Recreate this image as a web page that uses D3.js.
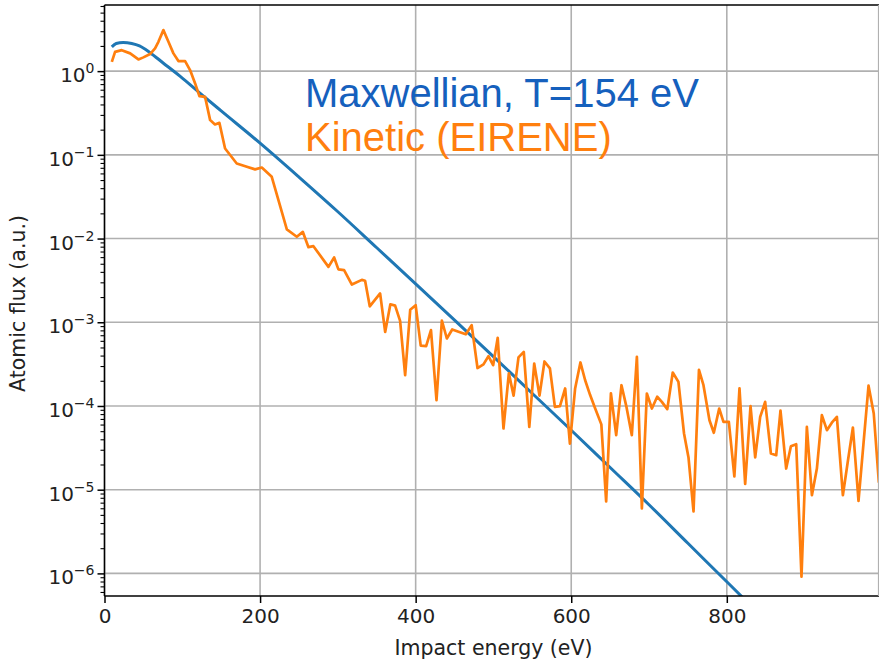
<!DOCTYPE html>
<html>
<head>
<meta charset="utf-8">
<script src="https://cdn.jsdelivr.net/npm/d3@7"></script>
<style>
  html, body { margin: 0; padding: 0; background: #fff; }
  svg { display: block; }
</style>
</head>
<body>
<svg id="chart" width="879" height="660"></svg>
<script>
// ---------------- data ----------------
const maxwellEnergy = [9.4, 15, 24, 35, 45, 58.6, 75, 97, 123, 150, 200, 250, 300, 350, 400, 450, 500, 550, 600, 650, 700, 750, 800, 850];
const maxwellFlux = [1.95, 2.14, 2.20, 2.14, 2.00, 1.66, 1.26, 0.871, 0.543, 0.335, 0.138, 0.0543, 0.0209, 0.00776, 0.00288, 0.00106, 3.89e-4, 1.41e-4, 5.13e-5, 1.84e-5, 6.61e-6, 2.29e-6, 7.94e-7, 2.75e-7];

const kineticEnergy = [
  9.4, 13.6, 22.2, 33, 43.6, 50, 58.6, 65, 69.3, 75.7,
  82.2, 88.6, 95, 103.6, 110, 116.5, 122, 129.3, 135.8, 142,
  147.7, 155, 170, 183, 193.6, 202.2, 215, 223.6, 234.4, 247.2,
  255, 262.2, 268.6, 287.9, 295.2, 300.7, 308, 318, 330.8, 335,
  341, 354.3, 360.8, 367.5, 373.6, 380, 386.5, 393, 400, 406.5,
  413.5, 419.7, 426.8, 433.7, 440.1, 447, 456, 464.5, 472, 479.5,
  487.2, 493.6, 499.6, 505.5, 512.9, 519.8, 525.9, 532.2, 539, 546.1,
  552.4, 559.2, 565.6, 572.6, 579, 585.5, 592.2, 598.3, 605, 611.8,
  617.9, 624.3, 630.8, 638.7, 644.9, 651, 657.8, 664.6, 671, 677.9,
  684.4, 690.8, 697.2, 703.7, 710.5, 716.5, 723.5, 730.5, 737.8, 745,
  750.8, 757.2, 764.2, 770, 777.7, 783.3, 790.2, 795.7, 802.6, 809.7,
  816.3, 823.6, 830.5, 836.5, 842.9, 849.3, 856.7, 863.5, 869, 876.3,
  882.4, 889.2, 896, 902.9, 909.4, 915.8, 922.2, 928.7, 935, 941.5,
  949.2, 955.6, 962.1, 969.3, 975.7, 982.2, 988.9, 995.5
];
const kineticFlux = [
  1.29, 1.70, 1.78, 1.63, 1.38, 1.46, 1.60, 1.87, 2.24, 3.09,
  2.24, 1.63, 1.32, 1.32, 1.03, 0.713, 0.502, 0.493, 0.260, 0.231,
  0.241, 0.119, 0.0789, 0.0719, 0.0670, 0.0706, 0.0546, 0.0288, 0.0129, 0.0105,
  0.0120, 7.89e-3, 8.11e-3, 4.59e-3, 5.94e-3, 4.28e-3, 4.19e-3, 2.82e-3, 3.21e-3, 3.13e-3,
  1.55e-3, 2.21e-3, 7.67e-4, 1.64e-3, 1.58e-3, 1.04e-3, 2.33e-4, 1.41e-3, 1.60e-3, 5.25e-4,
  5.18e-4, 8.05e-4, 1.17e-4, 1.05e-3, 6.40e-4, 8.20e-4, 7.67e-4, 7.18e-4, 9.23e-4, 2.84e-4,
  3.14e-4, 3.94e-4, 3.07e-4, 6.53e-4, 5.38e-5, 2.45e-4, 1.33e-4, 3.80e-4, 4.43e-4, 5.62e-5,
  3.21e-4, 1.33e-4, 3.40e-4, 2.81e-4, 9.75e-5, 9.95e-5, 1.62e-4, 3.55e-5, 1.62e-4, 3.31e-4,
  2.03e-4, 1.35e-4, 9.33e-5, 6.03e-5, 7.24e-6, 1.42e-4, 4.48e-5, 1.77e-4, 9.75e-5, 4.48e-5,
  3.86e-4, 5.96e-6, 1.41e-4, 9.33e-5, 1.29e-4, 1.12e-4, 9.16e-5, 2.51e-4, 1.94e-4, 4.69e-5,
  2.40e-5, 5.50e-6, 2.70e-4, 1.77e-4, 6.76e-5, 4.78e-5, 9.33e-5, 6.46e-5, 6.46e-5, 1.44e-5,
  1.62e-4, 1.17e-5, 9.95e-5, 2.43e-5, 7.41e-5, 1.12e-4, 2.70e-5, 2.58e-5, 8.81e-5, 1.79e-5,
  3.31e-5, 3.50e-5, 9.12e-7, 5.62e-5, 8.59e-6, 1.79e-5, 7.76e-5, 5.14e-5, 6.31e-5, 7.41e-5,
  8.59e-6, 2.19e-5, 5.53e-5, 7.35e-6, 3.55e-5, 1.75e-4, 8.13e-5, 1.21e-5
];

const xTicks = [0, 200, 400, 600, 800];
const yTickExponents = [0, -1, -2, -3, -4, -5, -6];

const labelMaxwell = "Maxwellian, T=154 eV";
const labelKinetic = "Kinetic (EIRENE)";
const xTitle = "Impact energy (eV)";
const yTitle = "Atomic flux (a.u.)";

// ---------------- layout ----------------
const svg = d3.select("#chart");
const pLeft = 104.5, pRight = 878.5, pTop = 5, pBottom = 596;

const x = d3.scaleLinear().domain([0, 995]).range([pLeft, pRight]);
const y = d3.scaleLog().domain([Math.pow(10, -6.27), Math.pow(10, 0.79)]).range([pBottom, pTop]);

const FONT = "'DejaVu Sans', sans-serif";

// clip
svg.append("defs").append("clipPath").attr("id", "plotclip")
  .append("rect").attr("x", pLeft).attr("y", pTop).attr("width", pRight - pLeft).attr("height", pBottom - pTop);

// grid
const grid = svg.append("g");
grid.selectAll("line.vx").data(xTicks).join("line")
  .attr("x1", d => x(d)).attr("x2", d => x(d))
  .attr("y1", pTop).attr("y2", pBottom)
  .attr("stroke", "#b0b0b0").attr("stroke-width", 1.6);
grid.selectAll("line.hy").data(yTickExponents).join("line")
  .attr("x1", pLeft).attr("x2", pRight)
  .attr("y1", d => y(Math.pow(10, d))).attr("y2", d => y(Math.pow(10, d)))
  .attr("stroke", "#b0b0b0").attr("stroke-width", 1.6);

// lines
const plot = svg.append("g").attr("clip-path", "url(#plotclip)");
const maxwellData = maxwellEnergy.map((e, i) => [e, maxwellFlux[i]]);
const kineticData = kineticEnergy.map((e, i) => [e, kineticFlux[i]]);

plot.append("path").datum(maxwellData)
  .attr("fill", "none").attr("stroke", "#1f77b4").attr("stroke-width", 3)
  .attr("stroke-linejoin", "round")
  .attr("d", d3.line().x(d => x(d[0])).y(d => y(d[1])).curve(d3.curveMonotoneX));

plot.append("path").datum(kineticData)
  .attr("fill", "none").attr("stroke", "#ff7f0e").attr("stroke-width", 2.7)
  .attr("stroke-linejoin", "round")
  .attr("d", d3.line().x(d => x(d[0])).y(d => y(d[1])));

// spines
const sp = svg.append("g").attr("stroke", "#000").attr("stroke-width", 1.5);
sp.append("line").attr("x1", pLeft).attr("x2", pLeft).attr("y1", pTop).attr("y2", pBottom);
sp.append("line").attr("x1", pLeft).attr("x2", pRight + 2).attr("y1", pBottom).attr("y2", pBottom);
sp.append("line").attr("x1", pLeft).attr("x2", pRight + 2).attr("y1", pTop).attr("y2", pTop);
svg.append("line").attr("x1", pRight).attr("x2", pRight).attr("y1", pTop).attr("y2", pBottom)
  .attr("stroke", "#b0b0b0").attr("stroke-width", 1.2);

// x axis
const xAxis = d3.axisBottom(x).tickValues(xTicks).tickSize(7).tickPadding(6).tickFormat(d3.format("d"));
const gx = svg.append("g").attr("transform", `translate(0,${pBottom})`).call(xAxis);
gx.select(".domain").remove();
gx.selectAll(".tick line").attr("stroke", "#000").attr("stroke-width", 1.5);
gx.selectAll(".tick text").attr("font-family", FONT).attr("font-size", 20).attr("fill", "#222");

// y axis major ticks
const majorVals = yTickExponents.map(e => Math.pow(10, e));
const minorVals = [];
for (let e = -7; e <= 0; e++) {
  for (let k = 2; k <= 9; k++) {
    const v = k * Math.pow(10, e);
    if (v >= y.domain()[0] && v <= y.domain()[1]) minorVals.push(v);
  }
}
const gy = svg.append("g").attr("transform", `translate(${pLeft},0)`)
  .call(d3.axisLeft(y).tickValues(majorVals).tickSize(7).tickFormat(""));
gy.select(".domain").remove();
gy.selectAll(".tick line").attr("stroke", "#000").attr("stroke-width", 1.5);

const gyMinor = svg.append("g").attr("transform", `translate(${pLeft},0)`)
  .call(d3.axisLeft(y).tickValues(minorVals).tickSize(4).tickFormat(""));
gyMinor.select(".domain").remove();
gyMinor.selectAll(".tick line").attr("stroke", "#000").attr("stroke-width", 1.1);

// y tick labels (10^n)
const yl = svg.append("g");
yTickExponents.forEach(e => {
  const t = yl.append("text")
    .attr("x", pLeft - 10).attr("y", y(Math.pow(10, e)) + 11)
    .attr("text-anchor", "end")
    .attr("font-family", FONT).attr("font-size", 20).attr("fill", "#222");
  t.append("tspan").text("10");
  t.append("tspan").attr("dy", -9).attr("font-size", 14).text(e === 0 ? "0" : "\u2212" + Math.abs(e));
});

// axis titles
svg.append("text").attr("x", (pLeft + pRight) / 2 + 2).attr("y", 655)
  .attr("text-anchor", "middle").attr("font-family", FONT).attr("font-size", 20.5).attr("fill", "#222")
  .text(xTitle);
svg.append("text")
  .attr("transform", `translate(25,${(pTop + pBottom) / 2 + 3}) rotate(-90)`)
  .attr("text-anchor", "middle").attr("font-family", FONT).attr("font-size", 20.5).attr("fill", "#222")
  .text(yTitle);

// annotation text
svg.append("text").attr("x", 305).attr("y", 107)
  .attr("font-family", "'Liberation Sans', Arial, sans-serif").attr("font-size", 40).attr("fill", "#1560bd")
  .text(labelMaxwell);
svg.append("text").attr("x", 305).attr("y", 151)
  .attr("font-family", "'Liberation Sans', Arial, sans-serif").attr("font-size", 40).attr("fill", "#ff7f0e")
  .text(labelKinetic);
</script>
</body>
</html>
